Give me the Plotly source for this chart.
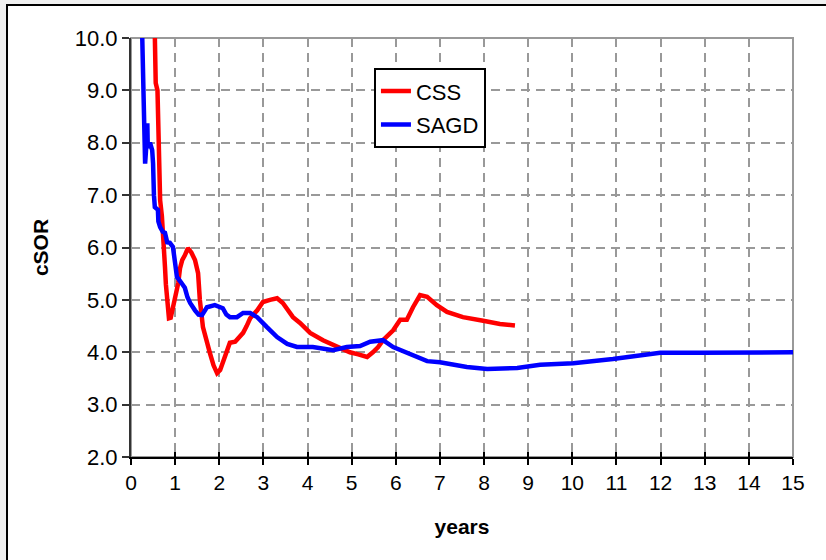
import plotly.graph_objects as go

# cumulative steam-oil ratio versus time for the two recovery processes
css_years = [0.53, 0.55, 0.56, 0.60, 0.62, 0.64, 0.66, 0.70, 0.73, 0.75, 0.77, 0.79, 0.81, 0.83,
             0.86, 0.90, 0.95, 1.01, 1.07, 1.11, 1.16, 1.22, 1.29, 1.37, 1.45, 1.52, 1.56, 1.63,
             1.71, 1.79, 1.87, 1.95, 2.02, 2.08, 2.16, 2.24, 2.36, 2.45, 2.54, 2.62, 2.70, 2.86,
             2.99, 3.15, 3.31, 3.44, 3.55, 3.67, 3.83, 4.06, 4.35, 4.67, 4.96, 5.15, 5.35, 5.48,
             5.60, 5.71, 5.94, 6.10, 6.25, 6.39, 6.55, 6.71, 6.93, 7.16, 7.52, 7.98, 8.36, 8.70]
css_csor = [10.5, 9.6, 9.14, 9.0, 8.1, 7.5, 6.9, 6.6, 6.28, 5.9, 5.63, 5.3, 5.06, 4.75,
            4.65, 4.66, 4.86, 5.1, 5.32, 5.6, 5.76, 5.85, 5.99, 5.9, 5.76, 5.51, 5.0, 4.48,
            4.2, 3.98, 3.75, 3.6, 3.66, 3.79, 3.98, 4.18, 4.2, 4.28, 4.37, 4.5, 4.65, 4.8,
            4.96, 5.0, 5.03, 4.94, 4.8, 4.67, 4.56, 4.37, 4.23, 4.1, 4.0, 3.96, 3.91, 4.0,
            4.1, 4.23, 4.42, 4.62, 4.62, 4.86, 5.09, 5.06, 4.9, 4.77, 4.67, 4.6, 4.54, 4.51]

sagd_years = [0.25, 0.27, 0.30, 0.32, 0.34, 0.32, 0.36, 0.37, 0.38, 0.43, 0.48, 0.50, 0.52,
              0.54, 0.61, 0.62, 0.66, 0.72, 0.77, 0.82, 0.88, 0.95, 1.00, 1.04, 1.12, 1.22,
              1.28, 1.34, 1.45, 1.53, 1.61, 1.72, 1.90, 2.08, 2.16, 2.24, 2.40, 2.54, 2.70,
              2.86, 3.08, 3.31, 3.54, 3.76, 4.12, 4.58, 4.89, 5.19, 5.42, 5.71, 5.94, 6.25,
              6.39, 6.71, 7.00, 7.61, 8.07, 8.75, 9.27, 10.02, 10.92, 11.69, 11.99, 12.89,
              14.64, 15.00]
sagd_csor = [10.2, 9.45, 8.9, 8.4, 7.7, 7.6, 8.1, 8.37, 7.9, 8.0, 7.86, 7.6, 7.0,
             6.77, 6.72, 6.5, 6.39, 6.3, 6.28, 6.1, 6.09, 6.01, 5.7, 5.44, 5.35, 5.23,
             5.05, 4.94, 4.8, 4.72, 4.71, 4.86, 4.9, 4.84, 4.72, 4.67, 4.67, 4.75, 4.75,
             4.67, 4.48, 4.29, 4.16, 4.1, 4.1, 4.04, 4.1, 4.12, 4.2, 4.23, 4.1, 4.0,
             3.95, 3.83, 3.81, 3.72, 3.68, 3.7, 3.76, 3.79, 3.87, 3.95, 3.99, 3.99,
             3.99, 4.0]

x_ticks = list(range(0, 16))
y_ticks = [2.0, 3.0, 4.0, 5.0, 6.0, 7.0, 8.0, 9.0, 10.0]

FONT = "Liberation Sans, Arial, sans-serif"
GRID = "#999999"

fig = go.Figure()
fig.add_trace(go.Scatter(x=css_years, y=css_csor, mode="lines", name="CSS",
                         line=dict(color="#FF0000", width=4.5), legendgroup="a"))
fig.add_trace(go.Scatter(x=sagd_years, y=sagd_csor, mode="lines", name="SAGD",
                         line=dict(color="#0000FF", width=4.5), legendgroup="b"))

fig.update_layout(
    width=826, height=560,
    margin=dict(l=131, r=33, t=38, b=103),
    paper_bgcolor="#F0F0F0",
    plot_bgcolor="white",
    font=dict(family=FONT, size=21, color="black"),
    showlegend=True,
    legend=dict(x=0.367, y=0.928, xanchor="left", yanchor="top",
                bgcolor="white", bordercolor="black", borderwidth=2,
                font=dict(size=22), traceorder="grouped", tracegroupgap=2,
                itemwidth=30),
    xaxis=dict(range=[0, 15], tickvals=x_ticks, showgrid=True,
               gridcolor=GRID, griddash="9px,6px", gridwidth=1.5,
               showline=True, linecolor="black", linewidth=2,
               ticks="outside", ticklen=6, tickcolor="black", tickwidth=2,
               tickfont=dict(size=21), zeroline=False,
               title=dict(text="<b>years</b>", font=dict(size=21), standoff=26)),
    xaxis2=dict(range=[0, 15], tickvals=x_ticks, overlaying="x", side="bottom",
                showgrid=False, showline=False, ticks="inside", ticklen=5,
                tickcolor="black", tickwidth=2, showticklabels=False, zeroline=False),
    yaxis=dict(range=[2, 10], tickvals=y_ticks, tickformat=".1f", showgrid=True,
               gridcolor=GRID, griddash="9px,6px", gridwidth=1.5,
               showline=True, linecolor="#333333", linewidth=2,
               ticks="outside", ticklen=7, tickcolor="#333333", tickwidth=2,
               tickfont=dict(size=22), zeroline=False,
               title=dict(text="<b>cSOR</b>", font=dict(size=21), standoff=20)),
)

# dummy trace to activate the overlay axis carrying the inner tick marks
fig.add_trace(go.Scatter(x=[None], y=[None], xaxis="x2", showlegend=False,
                         hoverinfo="skip"))

# white chart panel with its frame, and the grey plot-area border
fig.add_shape(type="rect", xref="paper", yref="paper",
              x0=-0.1873, x1=1.08, y0=-0.27, y1=1.0788,
              fillcolor="white", line=dict(color="black", width=2), layer="below")
fig.add_shape(type="rect", xref="paper", yref="paper", x0=0, x1=1, y0=0, y1=1,
              line=dict(color=GRID, width=2), layer="below")

fig.write_html("out.html")
